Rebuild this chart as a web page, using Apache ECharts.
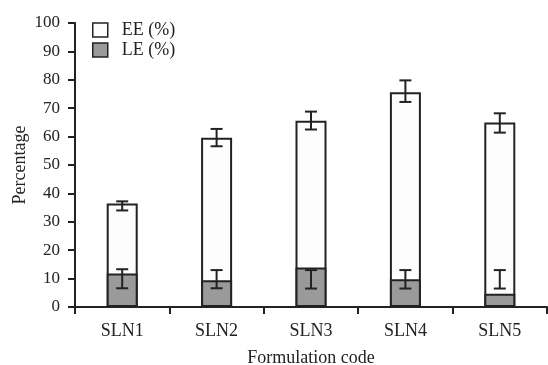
<!DOCTYPE html>
<html>
<head>
<meta charset="utf-8">
<script src="https://cdn.jsdelivr.net/npm/echarts@6/dist/echarts.min.js"></script>
<style>html,body{margin:0;padding:0;background:#fff;}#c{width:548px;height:365px;}</style>
</head>
<body>
<div id="c"></div>
<script>
const categories = ['SLN1', 'SLN2', 'SLN3', 'SLN4', 'SLN5'];
const eeValues = [36.4, 59.6, 65.6, 75.6, 65.0];
const eeErrLow = [34.0, 56.6, 62.5, 72.2, 61.4];
const eeErrHigh = [37.2, 62.7, 68.8, 79.8, 68.2];
const leValues = [11.8, 9.4, 13.9, 9.75, 4.7];
const leErrLow = [6.6, 6.6, 6.5, 6.5, 6.5];
const leErrHigh = [13.3, 13.0, 13.0, 13.0, 13.0];
const yTicks = [0, 10, 20, 30, 40, 50, 60, 70, 80, 90, 100];

const FONT = 'Liberation Serif';
const INK = '#222';

function errData(lo, hi) {
  return categories.map((c, i) => [i, lo[i], hi[i]]);
}
function renderErr(params, api) {
  const x = api.value(0);
  const p1 = api.coord([x, api.value(1)]);
  const p2 = api.coord([x, api.value(2)]);
  const hw = 6;
  const style = { stroke: INK, lineWidth: 2 };
  return {
    type: 'group',
    children: [
      { type: 'line', shape: { x1: p1[0], y1: p1[1], x2: p2[0], y2: p2[1] }, style },
      { type: 'line', shape: { x1: p1[0] - hw, y1: p1[1], x2: p1[0] + hw, y2: p1[1] }, style },
      { type: 'line', shape: { x1: p2[0] - hw, y1: p2[1], x2: p2[0] + hw, y2: p2[1] }, style }
    ]
  };
}

const chart = echarts.init(document.getElementById('c'), null, { renderer: 'canvas' });
chart.setOption({
  animation: false,
  backgroundColor: '#fff',
  textStyle: { fontFamily: FONT },
  legend: {
    orient: 'vertical',
    left: 92,
    top: 21,
    padding: 0,
    itemWidth: 15,
    itemHeight: 14,
    itemGap: 2,
    icon: 'rect',
    textStyle: { fontFamily: FONT, fontSize: 18, color: INK, padding: [0, 0, 0, 9] },
    data: [
      { name: 'EE (%)', itemStyle: { color: '#fdfdfd', borderColor: INK, borderWidth: 1.5 } },
      { name: 'LE (%)', itemStyle: { color: '#9a9a9a', borderColor: INK, borderWidth: 1.5 } }
    ]
  },
  grid: { left: 75, right: 1, top: 23, bottom: 58, containLabel: false, outerBoundsMode: 'none' },
  xAxis: {
    type: 'category',
    data: categories,
    boundaryGap: true,
    name: 'Formulation code',
    nameLocation: 'middle',
    nameGap: 42,
    nameMoveOverlap: false,
    nameTextStyle: { fontFamily: FONT, fontSize: 18, color: INK },
    axisLine: { lineStyle: { color: INK, width: 2 } },
    axisTick: { show: true, length: 7, lineStyle: { color: INK, width: 2 } },
    axisLabel: { fontFamily: FONT, fontSize: 18, color: INK, margin: 15 }
  },
  yAxis: {
    type: 'value',
    min: yTicks[0],
    max: yTicks[yTicks.length - 1],
    interval: 10,
    name: 'Percentage',
    nameLocation: 'middle',
    nameGap: 46,
    nameMoveOverlap: false,
    nameTextStyle: { fontFamily: FONT, fontSize: 18, color: INK },
    axisLine: { show: true, lineStyle: { color: INK, width: 2 } },
    axisTick: { show: true, length: 7, lineStyle: { color: INK, width: 2 } },
    axisLabel: { fontFamily: FONT, fontSize: 17, color: INK, margin: 15 },
    splitLine: { show: false }
  },
  series: [
    {
      name: 'EE (%)', type: 'bar', data: eeValues, barWidth: 31, barGap: '-100%', z: 2,
      itemStyle: { color: '#fdfdfd', borderColor: INK, borderWidth: 2 }
    },
    {
      name: 'LE (%)', type: 'bar', data: leValues, barWidth: 31, barGap: '-100%', z: 3,
      itemStyle: { color: '#9a9a9a', borderColor: INK, borderWidth: 2 }
    },
    {
      name: 'EE err', type: 'custom', data: errData(eeErrLow, eeErrHigh), z: 5,
      encode: { x: 0, y: [1, 2] }, renderItem: renderErr
    },
    {
      name: 'LE err', type: 'custom', data: errData(leErrLow, leErrHigh), z: 5,
      encode: { x: 0, y: [1, 2] }, renderItem: renderErr
    }
  ]
});
</script>
</body>
</html>
